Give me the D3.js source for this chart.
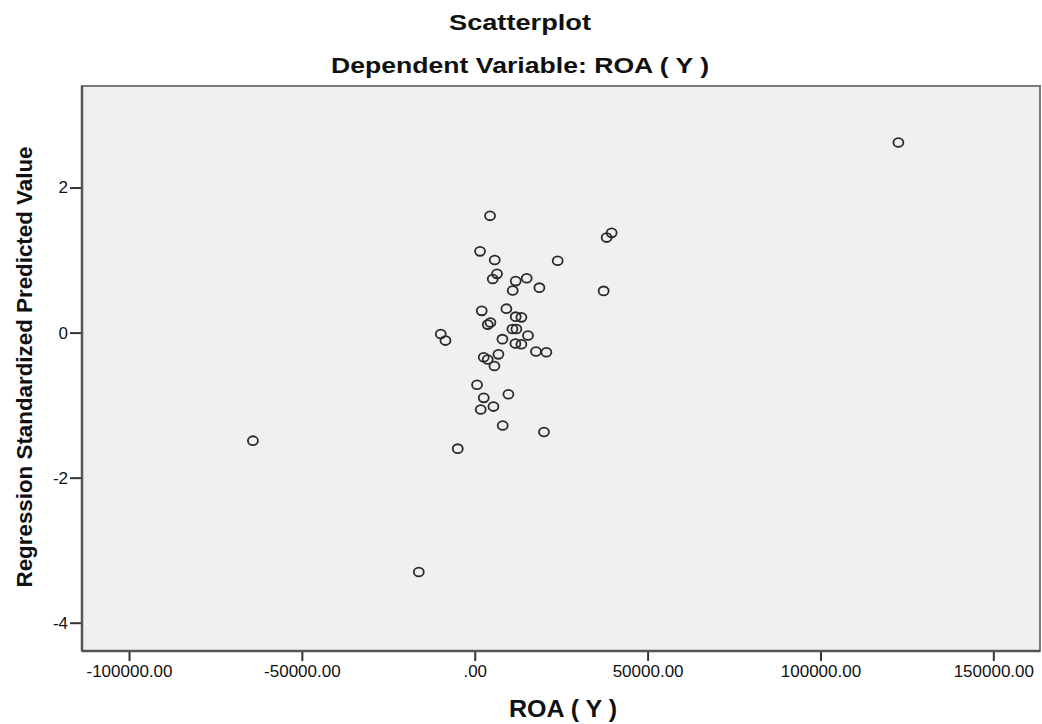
<!DOCTYPE html>
<html>
<head>
<meta charset="utf-8">
<script src="https://cdn.jsdelivr.net/npm/d3@7"></script>
<style>
  body { margin: 0; background: #fff; }
  text { font-family: "Liberation Sans", Arial, sans-serif; fill: #111; }
</style>
</head>
<body>
<div id="container"></div>
<script>
// DATA

const roaValues = [
  122544, -64163, -16185, -4913, 4422, 1532, 5780, 23989, 6445, 5202,
  11850, 15029, 10983, 18700, 37284, 39596, 38150, 2023, 9162, 11850,
  13497, 4538, 3757, 10896, 12052, 15405, 8006, 11763, 13497, 17717,
  20723, 2601, 3757, 6850, 5694, -9827, -8468, 665, 9740, 2601,
  1734, 5405, 8093, 20029
];

const predictedValues = [
  2.62, -1.49, -3.30, -1.60, 1.61, 1.12, 1.00, 0.99, 0.81, 0.74,
  0.71, 0.75, 0.58, 0.62, 0.575, 1.375, 1.31, 0.30, 0.33, 0.22,
  0.21, 0.14, 0.11, 0.05, 0.05, -0.04, -0.09, -0.15, -0.16, -0.26,
  -0.27, -0.34, -0.37, -0.30, -0.46, -0.02, -0.11, -0.72, -0.85, -0.90,
  -1.06, -1.02, -1.28, -1.37
];

const xTicks = [-100000, -50000, 0, 50000, 100000, 150000];
const yTicks = [-4, -2, 0, 2];

const points = roaValues.map((v, i) => ({ x: v, y: predictedValues[i] }));

// VARIABLES

const width = 1042;
const height = 724;
const plot = { left: 82, right: 1040, top: 86, bottom: 651 };

// SCALES

const xScale = d3.scaleLinear()
  .domain([-113600, 163500])
  .range([plot.left, plot.right]);

const yScale = d3.scaleLinear()
  .domain([-4.39, 3.40])
  .range([plot.bottom, plot.top]);

// SPSS style labels, plain hyphen for the minus
const fmtX = d => d === 0 ? ".00" : d.toFixed(2);
const fmtY = d => String(d);

// ELEMENTS

const svg = d3.select("#container")
  .append("svg")
  .attr("width", width)
  .attr("height", height);

// plot background + frame
svg.append("rect")
  .attr("x", plot.left)
  .attr("y", plot.top)
  .attr("width", plot.right - plot.left)
  .attr("height", plot.bottom - plot.top)
  .attr("fill", "#f0f0f0")
  .attr("stroke", "#7a7a7a")
  .attr("stroke-width", 2);

// AXES

const xAxis = svg.append("g")
  .attr("transform", `translate(0,${plot.bottom})`)
  .call(d3.axisBottom(xScale).tickValues(xTicks).tickFormat(fmtX).tickSize(10).tickSizeOuter(0));

const yAxis = svg.append("g")
  .attr("transform", `translate(${plot.left},0)`)
  .call(d3.axisLeft(yScale).tickValues(yTicks).tickFormat(fmtY).tickSize(12).tickSizeOuter(0));

[xAxis, yAxis].forEach(ax => {
  ax.select(".domain").remove();
  ax.selectAll(".tick line").attr("stroke", "#333").attr("stroke-width", 2);
  ax.selectAll(".tick text")
    .style("font-size", "17px")
    .attr("fill", "#1a1a1a");
});

xAxis.selectAll(".tick text").attr("y", 14).attr("dy", "0.71em");
yAxis.selectAll(".tick text").attr("x", -14);

// axis lines (darker, left + bottom)
svg.append("line")
  .attr("x1", plot.left).attr("x2", plot.right)
  .attr("y1", plot.bottom).attr("y2", plot.bottom)
  .attr("stroke", "#555").attr("stroke-width", 2.5);

svg.append("line")
  .attr("x1", plot.left).attr("x2", plot.left)
  .attr("y1", plot.top).attr("y2", plot.bottom)
  .attr("stroke", "#555").attr("stroke-width", 2.5);

// POINTS

svg.selectAll("ellipse.pt")
  .data(points)
  .join("ellipse")
  .attr("class", "pt")
  .attr("cx", d => xScale(d.x))
  .attr("cy", d => yScale(d.y))
  .attr("rx", 5)
  .attr("ry", 4.4)
  .attr("fill", "none")
  .attr("stroke", "#2a2a2a")
  .attr("stroke-width", 1.8);

// TITLES

svg.append("text")
  .attr("x", 520).attr("y", 30)
  .attr("text-anchor", "middle")
  .attr("textLength", 142).attr("lengthAdjust", "spacingAndGlyphs")
  .style("font-size", "22px").style("font-weight", "bold")
  .text("Scatterplot");

svg.append("text")
  .attr("x", 520).attr("y", 73)
  .attr("text-anchor", "middle")
  .attr("textLength", 378).attr("lengthAdjust", "spacingAndGlyphs")
  .style("font-size", "22px").style("font-weight", "bold")
  .text("Dependent Variable: ROA ( Y )");

svg.append("text")
  .attr("x", 563).attr("y", 717)
  .attr("text-anchor", "middle")
  .attr("textLength", 108).attr("lengthAdjust", "spacingAndGlyphs")
  .style("font-size", "23px").style("font-weight", "bold")
  .text("ROA ( Y )");

svg.append("text")
  .attr("transform", "translate(32,367) rotate(-90)")
  .attr("text-anchor", "middle")
  .attr("textLength", 441).attr("lengthAdjust", "spacingAndGlyphs")
  .style("font-size", "22px").style("font-weight", "bold")
  .text("Regression Standardized Predicted Value");
</script>
</body>
</html>
